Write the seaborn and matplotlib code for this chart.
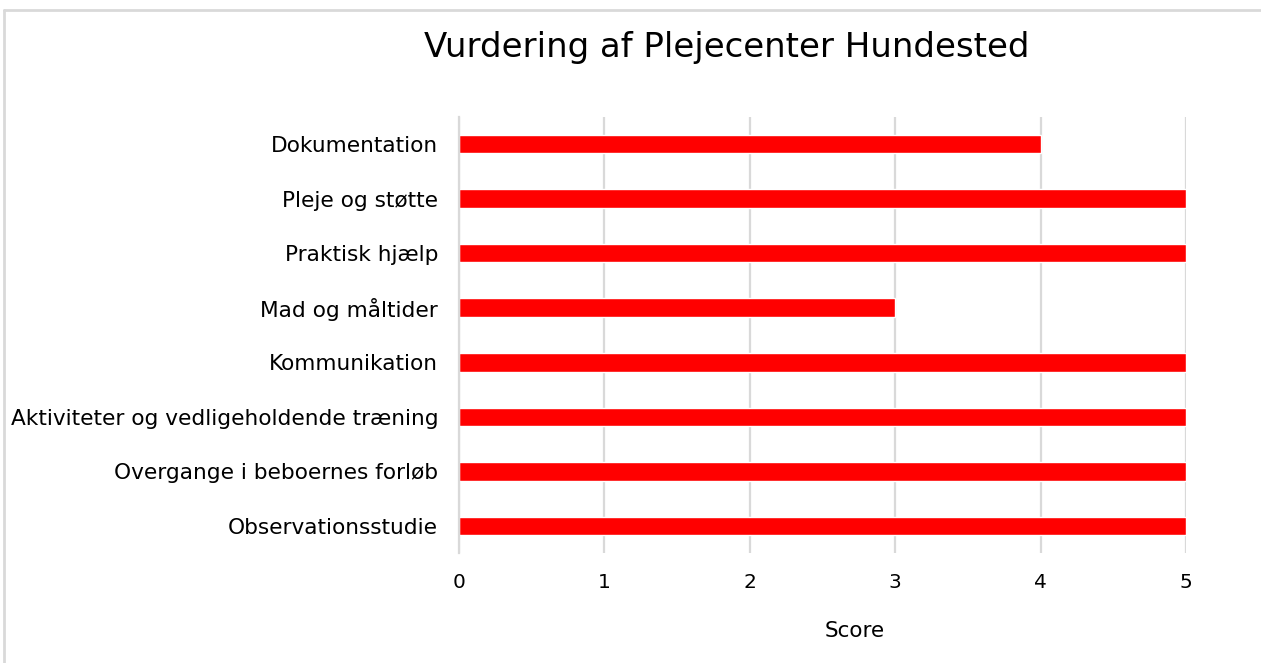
import matplotlib
matplotlib.use("Agg")
import matplotlib.pyplot as plt
from matplotlib.lines import Line2D
import pandas as pd
import seaborn as sns

# --- Data ---
categories = [
    "Dokumentation",
    "Pleje og støtte",
    "Praktisk hjælp",
    "Mad og måltider",
    "Kommunikation",
    "Aktiviteter og vedligeholdende træning",
    "Overgange i beboernes forløb",
    "Observationsstudie",
]
scores = [4, 5, 5, 3, 5, 5, 5, 5]
x_ticks = [0, 1, 2, 3, 4, 5]

df = pd.DataFrame({"Kategori": categories, "Score": scores})

sns.set_theme(style="white")
plt.rcParams["font.family"] = ["DejaVu Sans"]
plt.rcParams["text.color"] = "#000000"

fig = plt.figure(figsize=(12.61, 6.63), dpi=100)
ax = fig.add_axes([0.364, 0.1655, 0.5765, 0.6585])

sns.barplot(data=df, x="Score", y="Kategori", orient="h", color="#ff0000",
            saturation=1, width=0.34, ax=ax)

ax.set_xlim(0, 5)
ax.set_xticks(x_ticks)
ax.xaxis.grid(True, color="#d9d9d9", linewidth=1.6)
ax.set_axisbelow(True)
for side in ["top", "right", "bottom"]:
    ax.spines[side].set_visible(False)
ax.spines["left"].set_color("#d9d9d9")
ax.spines["left"].set_linewidth(1.6)
ax.tick_params(axis="x", length=0, labelsize=14.5, colors="#000000", pad=14)
ax.tick_params(axis="y", length=0, labelsize=15.6, colors="#000000", pad=15)
ax.set_ylabel("")
ax.set_xlabel("")

fig.text(0.6775, 1 - 631 / 663, "Score", ha="center", va="center", fontsize=15.5)
fig.text(0.5765, 1 - 48 / 663, "Vurdering af Plejecenter Hundested",
         ha="center", va="center", fontsize=24.5)

# chart frame: only top and left edges are visible in the crop
y_top = 1 - 10 / 663
x_left = 4 / 1261
fig.lines.append(Line2D([x_left, 1.0], [y_top, y_top], transform=fig.transFigure,
                        color="#d9d9d9", linewidth=2))
fig.lines.append(Line2D([x_left, x_left], [0, y_top], transform=fig.transFigure,
                        color="#d9d9d9", linewidth=2))

fig.savefig("out.png", dpi=100)
